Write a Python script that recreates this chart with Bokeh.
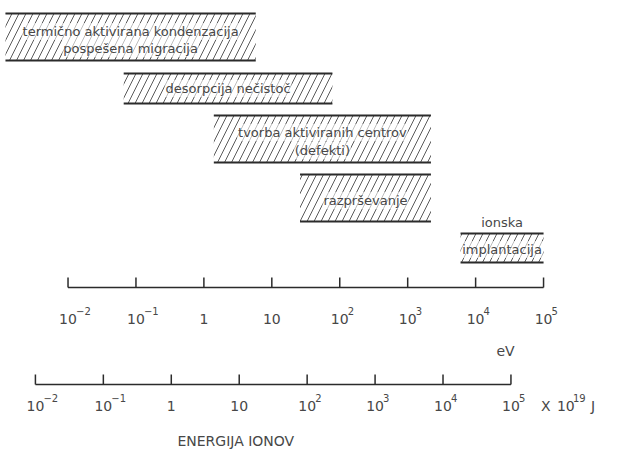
import numpy as np
from bokeh.plotting import figure
from bokeh.models import Range1d, ColumnDataSource
from bokeh.core.properties import value
from bokeh.embed import file_html
from bokeh.resources import INLINE

# ---------------- data ----------------
processes = [
    "termično aktivirana kondenzacija",
    "desorpcija nečistoč",
    "tvorba aktiviranih centrov",
    "razprševanje",
    "ionska implantacija",
]
energy_min_eV = [0.0012, 0.066, 1.4, 26.0, 6000.0]
energy_max_eV = [5.8, 78.0, 2200.0, 2200.0, 100000.0]

# text lines of each process label and the bar each line belongs to
label_lines = ["termično aktivirana kondenzacija", "pospešena migracija",
               "desorpcija nečistoč",
               "tvorba aktiviranih centrov", "(defekti)",
               "razprševanje",
               "ionska", "implantacija"]
label_bar = [0, 0, 1, 2, 2, 3, 4, 4]

ev_ticks = [1e-2, 1e-1, 1e0, 1e1, 1e2, 1e3, 1e4, 1e5]
ev_tick_base = ["10", "10", "1", "10", "10", "10", "10", "10"]
ev_tick_exp = ["−2", "−1", "", "", "2", "3", "4", "5"]

j_ticks = [1e-2, 1e-1, 1e0, 1e1, 1e2, 1e3, 1e4, 1e5]
j_tick_base = ["10", "10", "1", "10", "10", "10", "10", "10"]
j_tick_exp = ["−2", "−1", "", "", "2", "3", "4", "5"]
j_shift_decades = 0.48          # drawn offset of the joule scale against the eV scale

ev_unit = "eV"
j_unit_parts = ["X", "10", "19", "J"]
axis_title = "ENERGIJA IONOV"

# ---------------- layout (canvas pixels, y grows downward) ----------------
W, H = 601, 450
X0, X1 = -2.994, 5.853          # log10(eV) shown across the canvas
row_top = [13, 73, 115, 174, 233]
row_bot = [60, 103, 162, 221, 262]
label_y = [31, 48, 88, 132, 150, 200, 222, 249]
ev_axis_y, ev_label_y, ev_unit_y = 287, 318, 350
j_axis_y, j_label_y, title_y = 384, 405, 440
tick_len = 10
unit_offsets = [30, 46, 62, 80]
unit_dy = [0, 0, -8, 0]

INK = "#2b2b2b"
TXT = "#474747"
FONT = value("DejaVu Sans")

p = figure(width=W, height=H, x_range=Range1d(X0, X1), y_range=Range1d(H, 0),
           output_backend="svg", toolbar_location=None, min_border=0,
           x_axis_location=None, y_axis_location=None,
           outline_line_color=None, background_fill_color="white")
p.grid.visible = False
p.extra_x_ranges = {"J": Range1d(X0 + j_shift_decades, X1 + j_shift_decades)}

# ---------------- bars ----------------
lo = np.log10(energy_min_eV)
hi = np.log10(energy_max_eV)
bars = ColumnDataSource(dict(left=lo, right=hi, top=row_top, bottom=row_bot, name=processes))
p.quad(left="left", right="right", top="top", bottom="bottom", source=bars,
       fill_color="white", line_color=None,
       hatch_pattern="/", hatch_color="#5a5a5a", hatch_weight=1.0, hatch_scale=14)
p.segment(x0="left", x1="right", y0="top", y1="top", source=bars, line_color=INK, line_width=2)
p.segment(x0="left", x1="right", y0="bottom", y1="bottom", source=bars, line_color=INK, line_width=2)

mid = (lo + hi) / 2
lab = ColumnDataSource(dict(x=[mid[b] for b in label_bar], y=label_y, t=label_lines))
p.text(x="x", y="y", text="t", source=lab, text_align="center", text_baseline="middle",
       text_font=FONT, text_font_size="13px", text_color=TXT,
       background_fill_color="white", background_fill_alpha=0.6, padding=1)

# ---------------- eV scale ----------------
ev_x = np.log10(ev_ticks)
p.segment(x0=[ev_x[0]], x1=[ev_x[-1]], y0=[ev_axis_y], y1=[ev_axis_y], line_color=INK, line_width=1.5)
p.segment(x0=ev_x, x1=ev_x, y0=[ev_axis_y] * len(ev_x), y1=[ev_axis_y - tick_len] * len(ev_x),
          line_color=INK, line_width=1.5)
p.text(x=ev_x, y=[ev_label_y] * len(ev_x), text=ev_tick_base, text_align="center",
       text_baseline="middle", text_font=FONT, text_font_size="14px", text_color=TXT)
p.text(x=ev_x, y=[ev_label_y] * len(ev_x), text=ev_tick_exp, text_align="left",
       text_baseline="middle", x_offset=8, y_offset=-8,
       text_font=FONT, text_font_size="10px", text_color=TXT)
p.text(x=[4.44], y=[ev_unit_y], text=[ev_unit], text_align="center", text_baseline="middle",
       text_font=FONT, text_font_size="14px", text_color=TXT)

# ---------------- joule scale ----------------
j_x = np.log10(j_ticks)
p.segment(x0=[j_x[0]], x1=[j_x[-1]], y0=[j_axis_y], y1=[j_axis_y], line_color=INK, line_width=1.5,
          x_range_name="J")
p.segment(x0=j_x, x1=j_x, y0=[j_axis_y] * len(j_x), y1=[j_axis_y - tick_len] * len(j_x),
          line_color=INK, line_width=1.5, x_range_name="J")
p.text(x=j_x, y=[j_label_y] * len(j_x), text=j_tick_base, text_align="center",
       text_baseline="middle", text_font=FONT, text_font_size="14px", text_color=TXT,
       x_range_name="J")
p.text(x=j_x, y=[j_label_y] * len(j_x), text=j_tick_exp, text_align="left",
       text_baseline="middle", x_offset=8, y_offset=-8,
       text_font=FONT, text_font_size="10px", text_color=TXT, x_range_name="J")
# unit after the last joule tick
for part, dx, dy in zip(j_unit_parts, unit_offsets, unit_dy):
    p.text(x=[j_x[-1]], y=[j_label_y], text=[part], text_align="left", text_baseline="middle",
           x_offset=dx, y_offset=dy, text_font=FONT,
           text_font_size="10px" if dy else "14px", text_color=TXT, x_range_name="J")

p.text(x=[0.09], y=[title_y], text=[axis_title], text_align="left", text_baseline="middle",
       text_font=FONT, text_font_size="14px", text_color=TXT, x_range_name="J")

open("out.html", "w").write(file_html(p, INLINE))
